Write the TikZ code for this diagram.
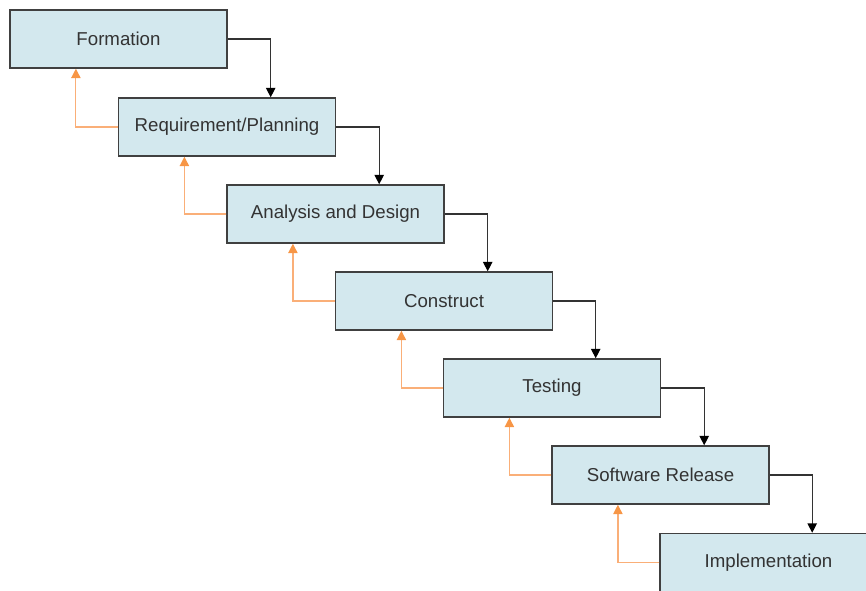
\documentclass[tikz,border=0pt]{standalone}
\usepackage{fontspec}
\setmainfont{Liberation Sans}
\usepackage{xcolor}
\usepackage{tikz}
\usetikzlibrary{positioning, calc, arrows.meta}

\definecolor{boxfill}{RGB}{211,232,238}
\definecolor{boxline}{RGB}{64,64,64}
\definecolor{backline}{RGB}{250,175,120}
\definecolor{backtip}{RGB}{247,150,70}

\begin{document}
\begin{tikzpicture}[x=0.75pt, y=-0.75pt]

			\tikzstyle{phase}=[rectangle, draw=boxline, line width=1.1pt, fill=boxfill, minimum width=162.75pt, minimum height=43.5pt, text=black!80, font=\fontsize{14}{17}\selectfont]
			\tikzstyle{down}=[draw=black!80, line width=0.9pt, -{Triangle[width=7pt, length=7pt, color=black]}]
			\tikzstyle{back}=[draw=backline, line width=0.9pt, -{Triangle[width=7pt, length=7pt, color=backtip]}]

			\useasboundingbox (0,0) rectangle (866,590);

			\node (formation) at (118.5, 39) [phase] {Formation};
			\node (planning) at (227, 127) [phase] {Requirement/Planning};
			\node (design) at (335.5, 214) [phase] {Analysis and Design};
			\node (construct) at (444, 301) [phase] {Construct};
			\node (testing) at (552, 388) [phase] {Testing};
			\node (release) at (660.5, 475) [phase] {Software Release};
			\node (implementation) at (768.5, 562.5) [phase] {Implementation};

			% forward flow
			\draw [down] (formation.east) -| ($(planning.north west)!0.7!(planning.north east)$);
			\draw [down] (planning.east) -| ($(design.north west)!0.7!(design.north east)$);
			\draw [down] (design.east) -| ($(construct.north west)!0.7!(construct.north east)$);
			\draw [down] (construct.east) -| ($(testing.north west)!0.7!(testing.north east)$);
			\draw [down] (testing.east) -| ($(release.north west)!0.7!(release.north east)$);
			\draw [down] (release.east) -| ($(implementation.north west)!0.7!(implementation.north east)$);

			% feedback
			\draw [back] (planning.west) -| ($(formation.south west)!0.305!(formation.south east)$);
			\draw [back] (design.west) -| ($(planning.south west)!0.305!(planning.south east)$);
			\draw [back] (construct.west) -| ($(design.south west)!0.305!(design.south east)$);
			\draw [back] (testing.west) -| ($(construct.south west)!0.305!(construct.south east)$);
			\draw [back] (release.west) -| ($(testing.south west)!0.305!(testing.south east)$);
			\draw [back] (implementation.west) -| ($(release.south west)!0.305!(release.south east)$);

\end{tikzpicture}
\end{document}
